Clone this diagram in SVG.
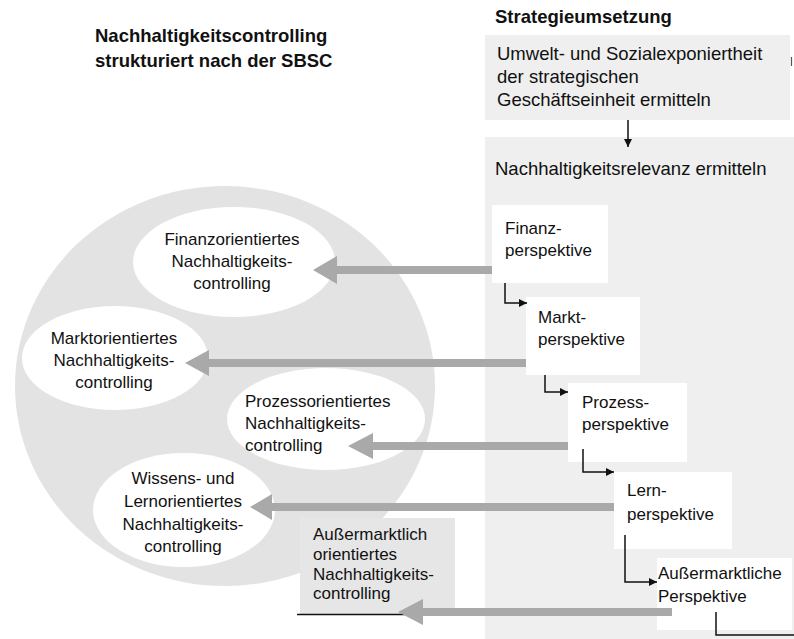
<svg xmlns="http://www.w3.org/2000/svg" width="794" height="639" viewBox="0 0 794 639">
  <defs>
    <style>
      text { font-family: "Liberation Sans", Arial, sans-serif; fill: #111; }
      .title { font-size: 18.5px; font-weight: bold; }
      .big { font-size: 18.5px; }
      .lbl { font-size: 17px; }
      .mid { text-anchor: middle; }
      .panel { fill: #efefef; }
      .white { fill: #ffffff; }
      .flow { fill: none; stroke: #111; stroke-width: 1.5; }
      .feed { fill: none; stroke: #a9a9a9; stroke-width: 8; }
    </style>
    <marker id="tipBlack" viewBox="0 0 10 10" refX="10" refY="5" markerWidth="9" markerHeight="8" markerUnits="userSpaceOnUse" orient="auto">
      <path d="M0,0 L10,5 L0,10 Z" fill="#111"/>
    </marker>
  </defs>

  <!-- headings -->
  <g id="heading-left">
    <text class="title" x="95" y="42">Nachhaltigkeitscontrolling</text>
    <text class="title" x="95" y="67">strukturiert nach der SBSC</text>
  </g>
  <g id="heading-right">
    <text class="title" x="495" y="23">Strategieumsetzung</text>
  </g>

  <!-- sustainability controlling sphere -->
  <g id="sphere">
    <ellipse cx="225" cy="386" rx="210" ry="200" fill="#e3e3e3"/>
  </g>

  <g id="finanzorientiert">
    <ellipse cx="234" cy="262" rx="101" ry="55" class="white"/>
    <text class="lbl mid" x="232" y="245">Finanzorientiertes</text>
    <text class="lbl mid" x="232" y="267">Nachhaltigkeits-</text>
    <text class="lbl mid" x="232" y="289">controlling</text>
  </g>

  <g id="marktorientiert">
    <ellipse cx="115" cy="358" rx="93" ry="52" class="white"/>
    <text class="lbl mid" x="114" y="344">Marktorientiertes</text>
    <text class="lbl mid" x="114" y="366">Nachhaltigkeits-</text>
    <text class="lbl mid" x="114" y="388">controlling</text>
  </g>

  <g id="prozessorientiert">
    <ellipse cx="326" cy="419" rx="99" ry="51" class="white"/>
    <text class="lbl" x="245" y="407">Prozessorientiertes</text>
    <text class="lbl" x="245" y="429">Nachhaltigkeits-</text>
    <text class="lbl" x="245" y="451">controlling</text>
  </g>

  <g id="lernorientiert">
    <ellipse cx="184" cy="510" rx="91" ry="57" class="white"/>
    <text class="lbl mid" x="183" y="484">Wissens- und</text>
    <text class="lbl mid" x="183" y="507">Lernorientiertes</text>
    <text class="lbl mid" x="183" y="530">Nachhaltigkeits-</text>
    <text class="lbl mid" x="183" y="552">controlling</text>
  </g>

  <g id="ausserm-controlling">
    <rect x="300" y="518" width="155" height="97" fill="#e6e6e6"/>
    <line x1="297" y1="614.5" x2="405" y2="614.5" stroke="#111" stroke-width="1.3"/>
    <text class="lbl" x="313" y="540">Außermarktlich</text>
    <text class="lbl" x="313" y="560">orientiertes</text>
    <text class="lbl" x="313" y="580">Nachhaltigkeits-</text>
    <text class="lbl" x="313" y="599">controlling</text>
  </g>

  <!-- strategy implementation panel -->
  <g id="exposure">
    <rect x="485" y="35" width="305" height="85" class="panel"/>
    <line x1="791.5" y1="57" x2="791.5" y2="66" stroke="#555" stroke-width="1.2"/>
    <text class="big" x="497" y="60">Umwelt- und Sozialexponiertheit</text>
    <text class="big" x="497" y="83">der strategischen</text>
    <text class="big" x="497" y="106">Geschäftseinheit ermitteln</text>
  </g>

  <g id="relevance">
    <rect x="485" y="137" width="309" height="502" class="panel"/>
    <text class="big" x="495" y="175">Nachhaltigkeitsrelevanz ermitteln</text>
  </g>

  <g id="finanz">
    <rect x="492" y="205" width="116" height="78" class="white"/>
    <text class="lbl" x="505" y="234">Finanz-</text>
    <text class="lbl" x="505" y="256">perspektive</text>
  </g>

  <g id="markt">
    <rect x="526" y="297" width="114" height="78" class="white"/>
    <text class="lbl" x="538" y="323">Markt-</text>
    <text class="lbl" x="538" y="345">perspektive</text>
  </g>

  <g id="prozess">
    <rect x="568" y="383" width="119" height="79" class="white"/>
    <text class="lbl" x="582" y="408">Prozess-</text>
    <text class="lbl" x="582" y="430">perspektive</text>
  </g>

  <g id="lern">
    <rect x="614" y="472" width="118" height="77" class="white"/>
    <text class="lbl" x="627" y="496">Lern-</text>
    <text class="lbl" x="627" y="520">perspektive</text>
  </g>

  <g id="ausserm">
    <rect x="657" y="558" width="135" height="72" class="white"/>
    <text class="lbl" x="658" y="579">Außermarktliche</text>
    <text class="lbl" x="658" y="602">Perspektive</text>
  </g>

  <!-- connectors -->
  <g id="connectors">
    <line class="flow" x1="628" y1="120" x2="628" y2="147" marker-end="url(#tipBlack)"/>
    <polyline class="flow" points="505,283 505,303 527,303" marker-end="url(#tipBlack)"/>
    <polyline class="flow" points="545,375 545,392 568,392" marker-end="url(#tipBlack)"/>
    <polyline class="flow" points="583,449 583,472 614,472" marker-end="url(#tipBlack)"/>
    <polyline class="flow" points="625,535 625,582 657,582" marker-end="url(#tipBlack)"/>
    <polyline class="flow" points="716,612 716,635 794,635"/>

    <!-- feedback from the perspectives into the controlling areas -->
    <line class="feed" x1="492" y1="270" x2="333" y2="270"/>
    <path d="M313,270 L337,256 L337,284 Z" fill="#a9a9a9"/>

    <line class="feed" x1="526" y1="363" x2="206" y2="363"/>
    <path d="M185,363 L209,350 L209,376 Z" fill="#a9a9a9"/>

    <line class="feed" x1="568" y1="446" x2="370" y2="446"/>
    <path d="M348,446 L373,433 L373,459 Z" fill="#a9a9a9"/>

    <line class="feed" x1="614" y1="507" x2="268" y2="507"/>
    <path d="M250,507 L272,494 L272,520 Z" fill="#a9a9a9"/>

    <line class="feed" x1="672" y1="612" x2="420" y2="612"/>
    <path d="M398,612 L423,599 L423,625 Z" fill="#a9a9a9"/>
  </g>
</svg>
